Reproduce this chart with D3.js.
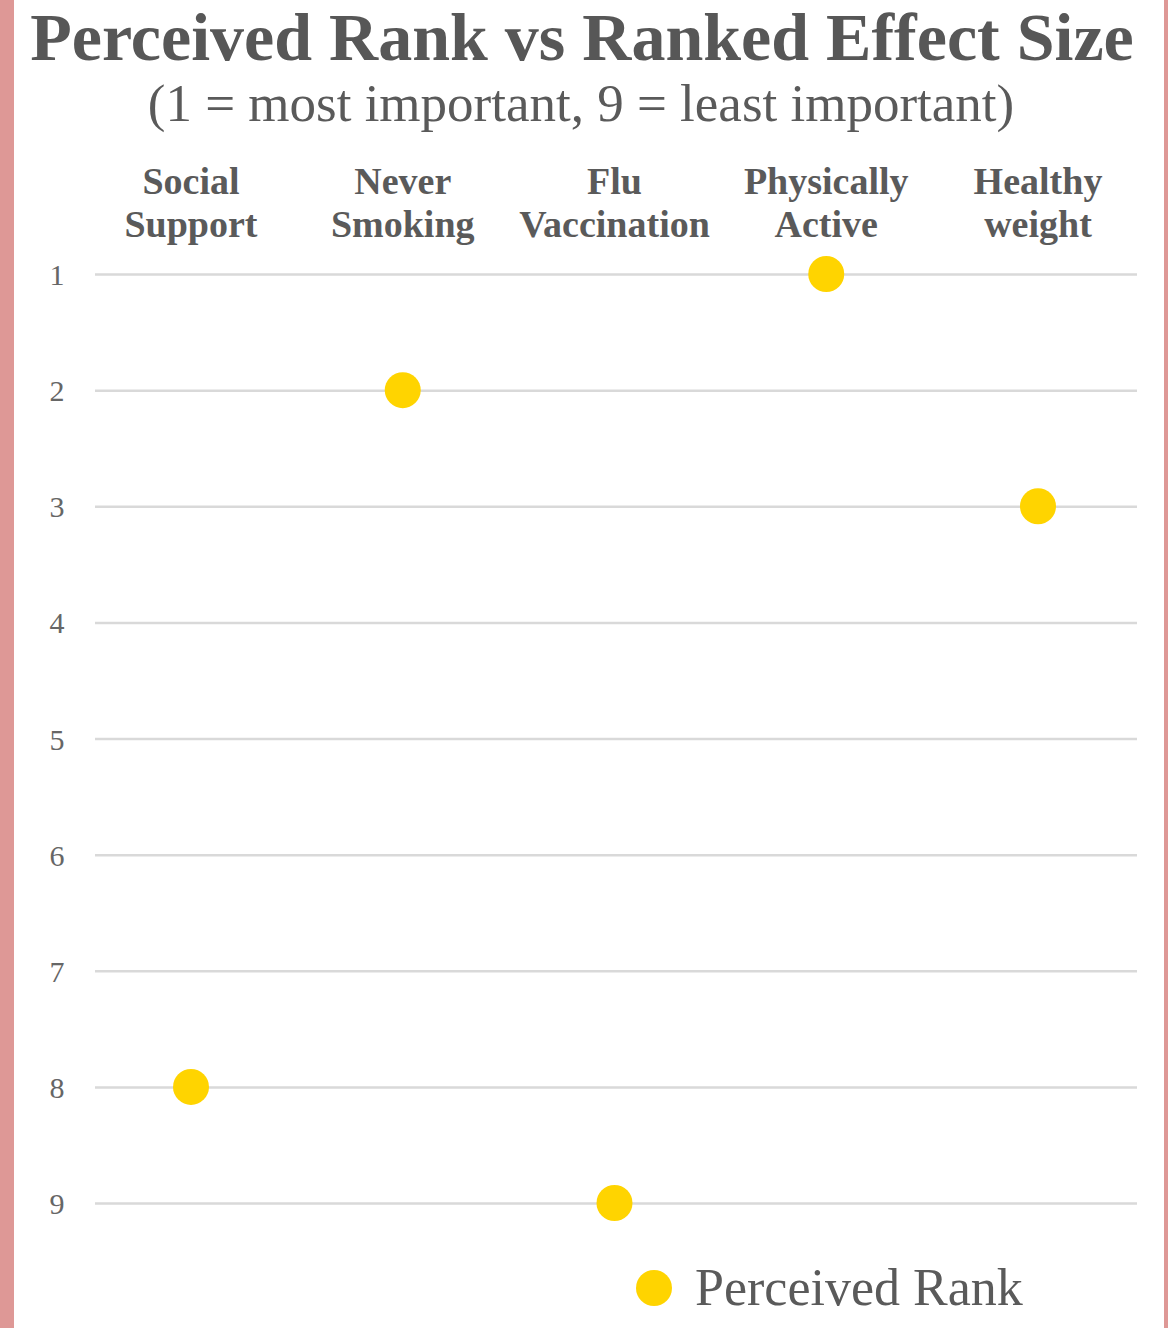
<!DOCTYPE html>
<html>
<head>
<meta charset="utf-8">
<script src="https://cdn.jsdelivr.net/npm/d3@7"></script>
<style>
html,body{margin:0;padding:0;background:#fff;}
svg{display:block;}
</style>
</head>
<body>
<svg id="chart" width="1168" height="1328"></svg>
<script>
const categories = [["Social","Support"],["Never","Smoking"],["Flu","Vaccination"],["Physically","Active"],["Healthy","weight"]];
const perceivedRank = [8, 2, 9, 1, 3];
const rankTicks = [1,2,3,4,5,6,7,8,9];
const titleText = "Perceived Rank vs Ranked Effect Size";
const subtitleText = "(1 = most important, 9 = least important)";
const legendLabel = "Perceived Rank";

const svg = d3.select("#chart");
const W = 1168, H = 1328;
const serif = "'Liberation Serif','Times New Roman',serif";

svg.append("rect").attr("width", W).attr("height", H).attr("fill", "#fff");
svg.append("rect").attr("x", 0).attr("y", 0).attr("width", 14).attr("height", H).attr("fill", "#de9896");
svg.append("rect").attr("x", 1164).attr("y", 0).attr("width", 4).attr("height", H).attr("fill", "#de9896");

const gridX0 = 95, gridX1 = 1137;
const x = d3.scalePoint().domain(categories.map(c => c.join(" "))).range([191, 1038]);
const y = d3.scaleLinear().domain([1, 9]).range([274, 1203]);

svg.append("text").attr("x", 582).attr("y", 60).attr("text-anchor", "middle")
  .attr("font-family", serif).attr("font-weight", "bold").attr("font-size", 68)
  .attr("fill", "#575757").text(titleText);
svg.append("text").attr("x", 581).attr("y", 121).attr("text-anchor", "middle")
  .attr("font-family", serif).attr("font-size", 53)
  .attr("fill", "#5a5a5a").text(subtitleText);

// category headers
const hdr = svg.append("g");
categories.forEach(c => {
  const t = hdr.append("text").attr("text-anchor", "middle")
    .attr("font-family", serif).attr("font-weight", "bold").attr("font-size", 38)
    .attr("fill", "#5a5a5a");
  c.forEach((line, i) => {
    t.append("tspan").attr("x", x(c.join(" "))).attr("y", 194 + i * 43).text(line);
  });
});

// y axis gridlines
const yAxis = d3.axisLeft(y).tickValues(rankTicks).tickSize(-(gridX1 - gridX0)).tickPadding(28).tickFormat(d3.format("d"));
const ag = svg.append("g").attr("transform", `translate(${gridX0},0)`).call(yAxis);
ag.select(".domain").remove();
ag.selectAll(".tick line").attr("stroke", "#d9d9d9").attr("stroke-width", 2.5);
ag.selectAll(".tick text").attr("font-family", serif).attr("font-size", 30)
  .attr("fill", "#666").attr("text-anchor", "middle").attr("x", -38).attr("dy", "0.35em");

// dots
svg.append("g").selectAll("circle").data(perceivedRank).join("circle")
  .attr("cx", (d, i) => x(categories[i].join(" ")))
  .attr("cy", d => y(d))
  .attr("r", 18)
  .attr("fill", "#ffd400");

// legend
const lg = svg.append("g").attr("transform", "translate(654,1288)");
lg.append("circle").attr("r", 18).attr("fill", "#ffd400");
lg.append("text").attr("x", 41).attr("y", 17).attr("font-family", serif).attr("font-size", 52)
  .attr("fill", "#5a5a5a").text(legendLabel);
</script>
</body>
</html>
